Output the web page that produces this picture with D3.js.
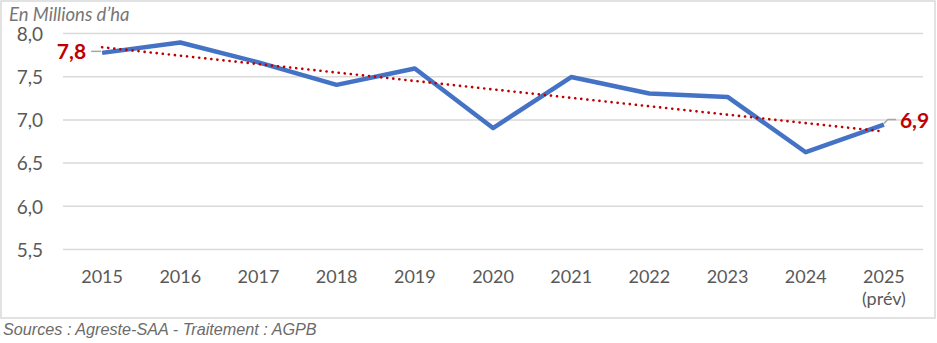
<!DOCTYPE html>
<html>
<head>
<meta charset="utf-8">
<script src="https://cdn.jsdelivr.net/npm/d3@7"></script>
<style>
  html, body { margin: 0; padding: 0; background: #fff; }
  svg { display: block; }
</style>
</head>
<body>
<svg id="chart" width="937" height="343"></svg>
<script>
// Surface (millions d'ha) par campagne
const years = ["2015", "2016", "2017", "2018", "2019", "2020", "2021", "2022", "2023", "2024", "2025"];
const yearSubLabels = ["", "", "", "", "", "", "", "", "", "", "(prév)"];
const surfaces = [7.77, 7.89, 7.66, 7.40, 7.59, 6.90, 7.49, 7.30, 7.26, 6.62, 6.94];
const yTicks = [5.5, 6.0, 6.5, 7.0, 7.5, 8.0];
const unitLabel = "En Millions d’ha";
const sourceLabel = "Sources : Agreste-SAA - Traitement : AGPB";

const fr = d3.formatLocale({ decimal: ",", thousands: " ", grouping: [3], currency: ["", " €"] });
const fmt1 = fr.format(".1f");

const svg = d3.select("#chart");
const plot = { left: 63, right: 923, top: 33, bottom: 249 };
const FONT = "Lato, sans-serif";

// Outer frame of the chart area
svg.append("rect")
  .attr("x", 1).attr("y", 1).attr("width", 934).attr("height", 317)
  .attr("fill", "#fff").attr("stroke", "#D9D9D9").attr("stroke-width", 1.5);

const x = d3.scaleBand().domain(years).range([plot.left, plot.right]);
const y = d3.scaleLinear().domain([5.5, 8.0]).range([plot.bottom, plot.top]);
const cx = d => x(d) + x.bandwidth() / 2;

// Horizontal gridlines and value axis labels
const yAxis = d3.axisLeft(y).tickValues(yTicks).tickFormat(fmt1)
  .tickSize(-(plot.right - plot.left)).tickPadding(20);
const gy = svg.append("g").attr("transform", `translate(${plot.left},0)`).call(yAxis);
gy.select(".domain").remove();
gy.selectAll(".tick line").attr("stroke", "#D9D9D9").attr("stroke-width", 1.5);
gy.selectAll(".tick text")
  .attr("fill", "#595959").attr("font-family", FONT).attr("font-size", 19)
  .attr("dy", "0.38em");

// Category axis labels
const xAxis = d3.axisBottom(x).tickSize(0).tickPadding(0);
const gx = svg.append("g").attr("transform", `translate(0,${plot.bottom})`).call(xAxis);
gx.select(".domain").remove();
gx.selectAll(".tick text").remove();
gx.selectAll(".tick").each(function (d, i) {
  const t = d3.select(this).append("text")
    .attr("fill", "#595959").attr("font-family", FONT).attr("font-size", 18)
    .attr("text-anchor", "middle");
  t.append("tspan").attr("x", 0).attr("y", 34).text(d);
  if (yearSubLabels[i]) t.append("tspan").attr("x", 0).attr("y", 56).text(yearSubLabels[i]);
});

// Linear trend (least squares) over the series
const idx = surfaces.map((_, i) => i);
const mx = d3.mean(idx), my = d3.mean(surfaces);
const slope = d3.sum(idx, i => (i - mx) * (surfaces[i] - my)) / d3.sum(idx, i => (i - mx) ** 2);
const icpt = my - slope * mx;
const trend = [0, years.length - 1].map(i => ({ year: years[i], v: icpt + slope * i }));

const line = d3.line().x(d => cx(d.year)).y(d => y(d.v));
const series = years.map((yr, i) => ({ year: yr, v: surfaces[i] }));

svg.append("path").datum(series)
  .attr("d", line).attr("fill", "none")
  .attr("stroke", "#4472C4").attr("stroke-width", 4.5)
  .attr("stroke-linejoin", "round");

svg.append("path").datum(trend)
  .attr("d", line).attr("fill", "none")
  .attr("stroke", "#C00000").attr("stroke-width", 2.6)
  .attr("stroke-linecap", "round").attr("stroke-dasharray", "0.1 6");

// Data labels on the first and last points, with leader lines
const first = series[0], last = series[series.length - 1];
const fx = cx(first.year), fy = y(first.v);
svg.append("path")
  .attr("d", `M${fx - 1},${fy - 1.5} H${fx - 11}`)
  .attr("stroke", "#A6A6A6").attr("stroke-width", 1.5).attr("fill", "none");
svg.append("text")
  .attr("x", fx - 16).attr("y", fy - 1.5).attr("dy", "0.36em")
  .attr("text-anchor", "end")
  .attr("fill", "#C00000").attr("font-family", FONT)
  .attr("font-weight", "bold").attr("font-size", 21)
  .text(fmt1(first.v));

const lx = cx(last.year), ly = y(last.v);
svg.append("path")
  .attr("d", `M${lx},${ly - 1} L${lx + 4},${ly - 5} H${lx + 12}`)
  .attr("stroke", "#A6A6A6").attr("stroke-width", 1.5).attr("fill", "none");
svg.append("text")
  .attr("x", lx + 16).attr("y", ly - 4).attr("dy", "0.36em")
  .attr("text-anchor", "start")
  .attr("fill", "#C00000").attr("font-family", FONT)
  .attr("font-weight", "bold").attr("font-size", 21)
  .text(fmt1(last.v));

// Unit caption
svg.append("text")
  .attr("x", 9).attr("y", 21)
  .attr("fill", "#767676").attr("font-family", FONT)
  .attr("font-style", "italic").attr("font-size", 18.5)
  .text(unitLabel);

// Source line
svg.append("text")
  .attr("x", 3).attr("y", 335)
  .attr("fill", "#6b6b6b").attr("font-family", "'Liberation Sans', Arial, sans-serif")
  .attr("font-style", "italic").attr("font-size", 16.2)
  .text(sourceLabel);
</script>
</body>
</html>
